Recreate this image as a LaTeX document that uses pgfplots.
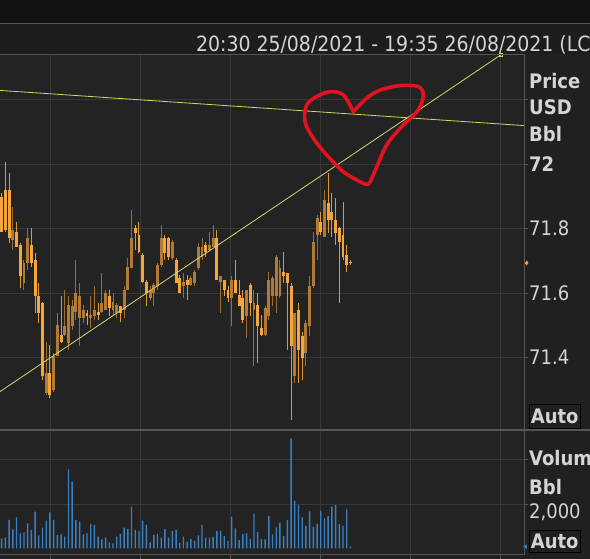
\documentclass[border=0pt]{standalone}
\usepackage{pgfplots}
\pgfplotsset{compat=1.18}
\usepackage{pgfplotstable}
\usepackage{fontspec}
\setmainfont{DejaVu Sans Condensed}

\definecolor{cplot}{HTML}{232323}
\definecolor{cpanel}{HTML}{202020}
\definecolor{ctitle}{HTML}{1D1D1D}
\definecolor{ctop}{HTML}{121212}
\definecolor{cgrid}{HTML}{373737}
\definecolor{cborder}{HTML}{555555}
\definecolor{ctext}{HTML}{D4D4D4}
\definecolor{cup}{HTML}{B27A36}
\definecolor{cupw}{HTML}{9C6C30}
\definecolor{cdn}{HTML}{F4A63C}
\definecolor{cdnw}{HTML}{E39836}
\definecolor{cvol}{HTML}{3A80C0}
\definecolor{cyel}{HTML}{D6D66A}
\definecolor{cred}{HTML}{E3121E}

\pgfplotstableread{
i o h l c
0 71.899 71.909 71.790 71.790
1 71.919 72.007 71.790 71.795
2 71.919 71.971 71.754 71.770
3 71.764 71.868 71.733 71.795
4 71.790 71.821 71.744 71.744
5 71.749 71.754 71.614 71.651
6 71.630 71.702 71.609 71.692
7 71.692 71.801 71.671 71.770
8 71.749 71.801 71.682 71.692
9 71.702 71.723 71.537 71.589
10 71.589 71.630 71.506 71.537
11 71.568 71.573 71.330 71.341
12 71.289 71.449 71.284 71.351
13 71.351 71.439 71.273 71.284
14 71.299 71.413 71.294 71.403
15 71.403 71.537 71.403 71.501
16 71.470 71.589 71.444 71.449
17 71.470 71.609 71.465 71.496
18 71.444 71.589 71.423 71.563
19 71.496 71.578 71.485 71.558
20 71.542 71.702 71.516 71.599
21 71.521 71.630 71.434 71.589
22 71.521 71.563 71.506 71.547
23 71.537 71.547 71.501 71.527
24 71.521 71.589 71.490 71.532
25 71.527 71.620 71.516 71.547
26 71.542 71.568 71.516 71.532
27 71.542 71.661 71.537 71.568
28 71.547 71.609 71.547 71.599
29 71.589 71.609 71.527 71.552
30 71.547 71.599 71.527 71.573
31 71.537 71.568 71.521 71.563
32 71.558 71.558 71.511 71.537
33 71.547 71.620 71.521 71.609
34 71.609 71.708 71.609 71.682
35 71.677 71.857 71.677 71.770
36 71.801 71.811 71.733 71.785
37 71.780 71.821 71.723 71.728
38 71.718 71.723 71.630 71.635
39 71.635 71.640 71.558 71.599
40 71.584 71.620 71.578 71.609
41 71.599 71.630 71.558 71.625
42 71.620 71.692 71.609 71.687
43 71.687 71.811 71.682 71.770
44 71.770 71.780 71.702 71.723
45 71.770 71.775 71.702 71.713
46 71.708 71.764 71.702 71.759
47 71.702 71.708 71.630 71.630
48 71.645 71.656 71.599 71.599
49 71.620 71.661 71.584 71.635
50 71.640 71.656 71.578 71.625
51 71.625 71.651 71.620 71.645
52 71.630 71.671 71.620 71.666
53 71.677 71.754 71.671 71.744
54 71.713 71.770 71.702 71.744
55 71.749 71.759 71.713 71.728
56 71.733 71.790 71.733 71.749
57 71.744 71.811 71.744 71.770
58 71.770 71.795 71.640 71.640
59 71.635 71.651 71.537 71.651
60 71.640 71.640 71.589 71.609
61 71.609 71.620 71.573 71.584
62 71.584 71.651 71.496 71.640
63 71.640 71.702 71.599 71.599
64 71.594 71.640 71.558 71.558
65 71.584 71.609 71.506 71.516
66 71.527 71.609 71.459 71.609
67 71.625 71.630 71.527 71.568
68 71.547 71.609 71.372 71.568
69 71.563 71.599 71.382 71.496
70 71.490 71.532 71.465 71.470
71 71.470 71.558 71.465 71.552
72 71.527 71.666 71.516 71.640
73 71.589 71.651 71.558 71.645
74 71.589 71.718 71.537 71.713
75 71.589 71.702 71.584 71.677
76 71.666 71.728 71.630 71.651
77 71.661 71.661 71.423 71.630
78 71.620 71.630 71.206 71.434
79 71.341 71.537 71.320 71.537
80 71.547 71.568 71.320 71.423
81 71.465 71.480 71.330 71.397
82 71.413 71.516 71.372 71.506
83 71.496 71.651 71.465 71.620
84 71.620 71.790 71.614 71.759
85 71.780 71.842 71.702 71.832
86 71.821 71.852 71.780 71.790
87 71.775 71.919 71.775 71.888
88 71.878 71.971 71.785 71.826
89 71.852 71.909 71.775 71.826
90 71.826 71.894 71.749 71.785
91 71.801 71.806 71.568 71.759
92 71.780 71.883 71.702 71.713
93 71.718 71.749 71.666 71.687
94 71.697 71.702 71.687 71.692
}\candles

\pgfplotstableread{
i v
0 450
1 495
2 1278
3 856
4 1398
5 676
6 721
7 1127
8 826
9 1654
10 585
11 932
12 1248
13 1624
14 1278
15 600
16 631
17 525
18 3565
19 3008
20 1278
21 1203
22 631
23 676
24 1097
25 1052
26 525
27 405
28 495
29 269
30 224
31 525
32 646
33 932
34 871
35 1880
36 826
37 781
38 1248
39 1052
40 269
41 600
42 646
43 480
44 871
45 480
46 781
47 826
48 254
49 525
50 300
51 420
52 330
53 585
54 1052
55 480
56 480
57 510
58 781
59 781
60 555
61 330
62 1428
63 901
64 375
65 646
66 676
67 435
68 1549
69 736
70 420
71 405
72 1458
73 631
74 947
75 1157
76 555
77 1278
78 4965
79 2151
80 1955
81 1398
82 1007
83 1669
84 977
85 1097
86 1684
87 1353
88 1458
89 1880
90 1955
91 1097
92 1007
93 1759
94 74
}\volumes

\begin{document}
\begin{tikzpicture}
\useasboundingbox (0pt,0pt) rectangle (590pt,559pt);
\clip (0pt,0pt) rectangle (590pt,559pt);
\fill[cpanel] (0pt,0pt) rectangle (590pt,559pt);
\fill[ctop] (0pt,536pt) rectangle (590pt,559pt);
\fill[ctitle] (0pt,505pt) rectangle (590pt,535pt);
\draw[cborder, line width=1pt] (0pt,535.5pt) -- (590pt,535.5pt);
\fill[cplot] (0pt,4pt) rectangle (524pt,505pt);

% ---------------- price panel ----------------
\begin{axis}[
  at={(0pt,129pt)}, anchor=south west,
  width=524pt, height=376pt, scale only axis,
  xmin=-0.4582, xmax=140.7817, ymin=71.175, ymax=72.341,
  axis line style={draw=none},
  clip=false,
  xtick={13.02,37.28,61.54,85.80,110.05,134.31}, xticklabels={},
  x tick style={draw=none},
  ytick={71.4,71.6,71.8,72,72.2},
  yticklabels={71.4,71.6,71.8,\textbf{72},{}},
  ytick pos=right, yticklabel pos=right,
  tick align=outside, major tick length=4pt,
  y tick style={cborder, line width=0.8pt},
  xmajorgrids, ymajorgrids,
  major grid style={cgrid, line width=0.8pt},
  /pgf/number format/assume math mode=true,
  yticklabel style={font=\fontsize{20}{24}\selectfont, text=ctext, anchor=west, inner sep=1pt},
]
% wicks
\addplot[draw=none, mark=none, restrict expr to domain={\thisrow{c}-\thisrow{o}}{0:1},
  error bars/.cd, y dir=plus, y explicit, error mark=none,
  error bar style={line width=1pt, draw=cupw}]
  table[x=i, y=l, y error plus expr={\thisrow{h}-\thisrow{l}}] {\candles};
\addplot[draw=none, mark=none, restrict expr to domain={\thisrow{c}-\thisrow{o}}{-1:0},
  error bars/.cd, y dir=plus, y explicit, error mark=none,
  error bar style={line width=1pt, draw=cdnw}]
  table[x=i, y=l, y error plus expr={\thisrow{h}-\thisrow{l}}] {\candles};
% bodies
\addplot[draw=none, mark=none, restrict expr to domain={\thisrow{c}-\thisrow{o}}{0:1},
  error bars/.cd, y dir=plus, y explicit, error mark=none,
  error bar style={line width=2.9pt, draw=cup}]
  table[x=i, y expr={min(\thisrow{o},\thisrow{c})}, y error plus expr={abs(\thisrow{c}-\thisrow{o})}] {\candles};
\addplot[draw=none, mark=none, restrict expr to domain={\thisrow{c}-\thisrow{o}}{-1:0},
  error bars/.cd, y dir=plus, y explicit, error mark=none,
  error bar style={line width=2.9pt, draw=cdn}]
  table[x=i, y expr={min(\thisrow{o},\thisrow{c})}, y error plus expr={abs(\thisrow{c}-\thisrow{o})}] {\candles};
% trend lines
\addplot[cyel, line width=0.8pt, mark=none] coordinates {(-0.4582,71.294) (134.5,72.338)};
\addplot[cyel, only marks, mark=square, mark size=1.8pt, mark options={line width=0.7pt}] coordinates {(134.5,72.338)};
\addplot[cyel, line width=0.8pt, mark=none] coordinates {(-0.4582,72.228) (140.78,72.119)};
% last price marker
\addplot[only marks, mark=diamond*, mark size=2pt, color=cdn] coordinates {(141.5,71.693)};
% hand-drawn heart
\addplot[cred, line width=3.6pt, smooth, tension=0.55, line cap=round, line join=round, mark=none] coordinates {
(94.77,72.162) (92.08,72.214) (88.49,72.224) (84.91,72.209) (82.21,72.183)
(81.75,72.131) (83.99,72.080) (87.6,72.028) (92.08,71.976) (96.58,71.945)
(98.81,71.937) (100.16,71.966) (103.77,72.059) (108.25,72.121) (112.29,72.167)
(113.64,72.214) (112.29,72.240) (107.36,72.243) (101.97,72.229) (98.38,72.204)
(94.77,72.162)};
\end{axis}

% ---------------- volume panel ----------------
\begin{axis}[
  at={(0pt,4pt)}, anchor=south west,
  width=524pt, height=124pt, scale only axis,
  xmin=-0.4582, xmax=140.7817, ymin=-302.5, ymax=5296,
  axis line style={draw=none},
  clip=false,
  xtick={13.02,37.28,61.54,85.80,110.05,134.31}, xticklabels={},
  xtick pos=bottom, ytick pos=right, yticklabel pos=right,
  ytick={2000,4000}, yticklabels={{2,000},{}},
  tick align=outside, major tick length=4pt,
  tick style={cborder, line width=0.8pt},
  xmajorgrids, ymajorgrids,
  major grid style={cgrid, line width=0.8pt},
  /pgf/number format/assume math mode=true,
  yticklabel style={font=\fontsize{20}{24}\selectfont, text=ctext, anchor=west, inner sep=1pt, yshift=-8pt},
]
\addplot[ybar, bar width=1.4pt, fill=cvol, draw=none] table[x=i, y=v] {\volumes};
\addplot[only marks, mark=triangle*, mark size=2.2pt, color=cvol, mark options={rotate=90}] coordinates {(141.2,74)};
\end{axis}

% frame lines
\draw[cborder, line width=1pt] (524pt,4pt) -- (524pt,505pt);
\draw[cborder, line width=0.8pt] (0pt,505pt) -- (524pt,505pt);
\draw[cborder, line width=1.2pt] (0pt,129pt) -- (590pt,129pt);
\draw[cborder, line width=1pt] (0pt,4pt) -- (524pt,4pt);

% title
\node[anchor=base west, inner sep=0pt, text=ctext, font=\fontsize{21}{25}\selectfont] at (196pt,507.5pt) {20:30 25/08/2021 - 19:35 26/08/2021 (LC};

% axis captions
\begin{scope}[every node/.style={anchor=base west, inner sep=0pt, text=ctext, font=\fontsize{20}{24}\selectfont\bfseries}]
\node at (529pt,470.7pt) {Price};
\node at (529pt,444pt) {USD};
\node at (529pt,417.3pt) {Bbl};
\node at (529pt,93.5pt) {Volum};
\node at (529pt,64.5pt) {Bbl};
\end{scope}
\node[anchor=south west, draw=cborder!150, line width=0.8pt, inner xsep=1.5pt, inner ysep=1pt, minimum height=24pt, text=ctext, font=\fontsize{20}{24}\selectfont\bfseries] at (529pt,130pt) {Auto};
\node[anchor=south west, draw=cborder!150, line width=0.8pt, inner xsep=1.5pt, inner ysep=1pt, minimum height=22pt, text=ctext, font=\fontsize{20}{24}\selectfont\bfseries] at (529pt,6pt) {Auto};
\end{tikzpicture}
\end{document}
